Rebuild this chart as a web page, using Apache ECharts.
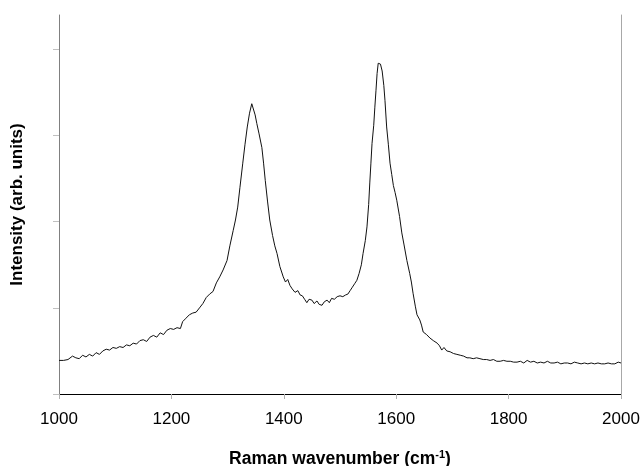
<!DOCTYPE html>
<html>
<head>
<meta charset="utf-8">
<script src="https://cdn.jsdelivr.net/npm/echarts@6/dist/echarts.min.js"></script>
<style>
  html, body { margin: 0; padding: 0; background: #fff; }
  #chart { width: 642px; height: 466px; }
</style>
</head>
<body>
<div id="chart"></div>
<script>
// Raman shift (cm-1) and intensity (arb. units, 1 unit = one y tick step)
var wavenumber = [
  1000,1008,1016,1024,1030,1036,1042,1048,1054,1060,1066,1072,1078,1084,1090,1096,1102,1108,1114,1120,
  1126,1132,1138,1144,1150,1156,1162,1168,1174,1180,1186,1192,1198,1204,1210,1216,1220,1226,1232,1238,
  1244,1250,1256,1262,1268,1274,1280,1286,1292,1299,1304,1310,1314,1318,1322,1327,1331,1335,1339,1343,
  1346,1349,1352,1356,1361,1364,1367,1371,1375,1380,1384,1388,1393,1399,1403,1407,1411,1415,1420,1425,
  1429,1433,1437,1441,1445,1450,1454,1459,1463,1468,1472,1477,1481,1485,1490,1495,1500,1505,1510,1514,
  1518,1522,1526,1530,1534,1538,1541,1545,1548,1551,1553,1555,1557,1560,1562,1564,1566,1568,1570,1572,
  1575,1578,1580,1583,1586,1589,1592,1595,1598,1601,1603,1606,1610,1614,1619,1624,1627,1630,1634,1637,
  1642,1645,1648,1654,1660,1666,1673,1677,1681,1685,1690,1696,1702,1708,1714,1720,1726,1731,1737,1743,
  1749,1755,1761,1767,1773,1779,1785,1791,1797,1803,1809,1815,1821,1827,1833,1839,1845,1851,1857,1863,
  1869,1875,1881,1887,1893,1899,1905,1911,1917,1923,1929,1935,1941,1947,1953,1959,1965,1971,1977,1983,
  1989,1995,2000
];
var intensity = [
  0.39,0.39,0.40,0.44,0.42,0.41,0.45,0.43,0.46,0.44,0.48,0.46,0.50,0.52,0.51,0.54,0.53,0.55,0.54,0.57,
  0.56,0.59,0.58,0.62,0.63,0.61,0.66,0.68,0.66,0.71,0.69,0.74,0.76,0.75,0.77,0.76,0.84,0.88,0.92,0.94,
  0.95,1.00,1.05,1.12,1.16,1.19,1.29,1.36,1.44,1.55,1.72,1.90,2.02,2.17,2.40,2.68,2.90,3.10,3.26,3.37,
  3.35,3.24,3.14,3.02,2.86,2.68,2.48,2.24,2.02,1.84,1.72,1.63,1.48,1.36,1.30,1.33,1.26,1.22,1.18,1.20,
  1.15,1.14,1.10,1.06,1.10,1.09,1.05,1.08,1.04,1.03,1.07,1.09,1.06,1.11,1.10,1.13,1.14,1.13,1.15,1.16,
  1.20,1.24,1.28,1.32,1.40,1.50,1.63,1.78,1.94,2.20,2.45,2.68,2.91,3.12,3.33,3.52,3.72,3.84,3.86,3.83,
  3.75,3.58,3.41,3.10,2.90,2.68,2.55,2.42,2.34,2.25,2.27,2.06,1.87,1.73,1.55,1.40,1.30,1.17,1.02,0.92,
  0.86,0.80,0.72,0.69,0.65,0.62,0.59,0.56,0.51,0.54,0.50,0.49,0.47,0.46,0.45,0.44,0.42,0.42,0.41,0.42,
  0.41,0.40,0.40,0.39,0.40,0.38,0.38,0.39,0.38,0.38,0.37,0.37,0.38,0.36,0.39,0.37,0.38,0.36,0.37,0.36,
  0.38,0.36,0.36,0.37,0.35,0.36,0.36,0.35,0.37,0.36,0.35,0.36,0.35,0.36,0.35,0.36,0.35,0.35,0.36,0.35,
  0.35,0.37,0.36
];
var xTicks = [1000, 1200, 1400, 1600, 1800, 2000];
var yTicks = [0, 1, 2, 3, 4];

var spectrum = wavenumber.map(function (w, i) { return [w, intensity[i]]; });

var chart = echarts.init(document.getElementById('chart'), null, { renderer: 'canvas' });
chart.setOption({
  animation: false,
  backgroundColor: '#fff',
  textStyle: { fontFamily: 'Liberation Sans, Arial, sans-serif' },
  grid: { left: 59, right: 21, top: 15, bottom: 72, outerBoundsMode: 'none', containLabel: false },
  xAxis: [
    {
      type: 'value',
      min: 1000, max: 2000, interval: 200,
      name: '{a|Raman wavenumber (cm}{s|-1}{a|)}',
      nameLocation: 'middle',
      nameGap: 55,
      nameTextStyle: {
        rich: {
          a: { fontSize: 17.5, fontWeight: 'bold', color: '#000', fontFamily: 'Liberation Sans' },
          s: { fontSize: 11, fontWeight: 'bold', color: '#000', fontFamily: 'Liberation Sans', verticalAlign: 'top', padding: [0, 0, 9, 0] }
        }
      },
      axisLine: { lineStyle: { color: '#000', width: 1 } },
      axisTick: { length: 5, lineStyle: { color: '#b0b0b0' }, customValues: xTicks },
      axisLabel: {
        fontSize: 17, color: '#000', margin: 17, customValues: xTicks,
        formatter: function (v) { return String(v); }
      },
      splitLine: { show: false }
    },
    {
      type: 'value', position: 'top', min: 1000, max: 2000,
      axisLine: { show: true, lineStyle: { color: '#000', width: 1 } },
      axisTick: { show: false }, axisLabel: { show: false }, splitLine: { show: false }
    }
  ],
  yAxis: [
    {
      type: 'value',
      min: 0, max: 4.4, interval: 1,
      name: 'Intensity (arb. units)',
      nameLocation: 'middle',
      nameGap: 33,
      nameTextStyle: { fontSize: 17, fontWeight: 'bold', color: '#000' },
      axisLine: { show: true, lineStyle: { color: '#808080', width: 1 } },
      axisTick: { show: true, length: 6, lineStyle: { color: '#c0c0c0' }, customValues: yTicks },
      axisLabel: { show: false },
      splitLine: { show: false }
    },
    {
      type: 'value', position: 'right', min: 0, max: 4.4,
      axisLine: { show: true, lineStyle: { color: '#a8a8a8', width: 1 } },
      axisTick: { show: false }, axisLabel: { show: false }, splitLine: { show: false }
    }
  ],
  series: [
    {
      type: 'line',
      data: spectrum,
      showSymbol: false,
      smooth: false,
      lineStyle: { color: '#111', width: 1 }
    }
  ]
});
</script>
</body>
</html>
